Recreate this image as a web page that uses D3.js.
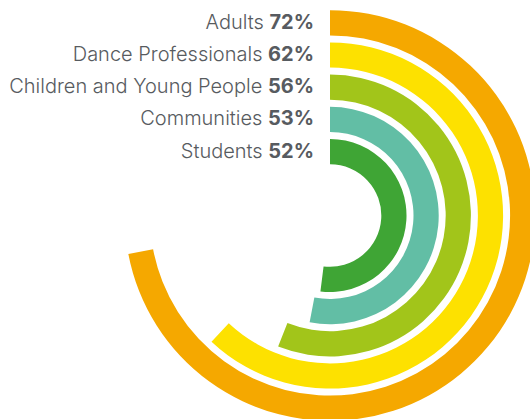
<!DOCTYPE html>
<html>
<head>
<meta charset="utf-8">
<script src="https://cdn.jsdelivr.net/npm/d3@7"></script>
<style>
  body { margin: 0; background: #fff; }
  svg { display: block; }
</style>
</head>
<body>
<div id="chart"></div>
<script>
// data, outer ring first
const categories = ["Adults", "Dance Professionals", "Children and Young People", "Communities", "Students"];
const values = [72, 62, 56, 53, 52];
const colors = ["#f5a800", "#fde100", "#a2c51a", "#62bea5", "#3fa535"];

const width = 530, height = 419;
const cx = 330, cy = 215.5;

const svg = d3.select("#chart")
  .append("svg")
  .attr("width", width)
  .attr("height", height);

const g = svg.append("g")
  .attr("transform", "translate(" + cx + "," + cy + ")");

// ring bands from the inside out
const band = d3.scaleBand()
  .domain(categories.slice().reverse())
  .range([51.3, 205.3])
  .paddingInner(0.217)
  .paddingOuter(0);

const angle = d3.scaleLinear()
  .domain([0, 100])
  .range([0, 2 * Math.PI]);

const arc = d3.arc()
  .innerRadius(d => band(d.cat))
  .outerRadius(d => band(d.cat) + band.bandwidth())
  .startAngle(0)
  .endAngle(d => angle(d.val));

const rows = categories.map((c, i) => ({ cat: c, val: values[i], color: colors[i] }));

g.selectAll("path")
  .data(rows)
  .enter()
  .append("path")
  .attr("d", arc)
  .attr("fill", d => d.color);

// labels, right aligned, centred on each ring
const labels = g.selectAll("text")
  .data(rows)
  .enter()
  .append("text")
  .attr("x", -16)
  .attr("y", d => -(band(d.cat) + band.bandwidth() / 2))
  .attr("dy", "0.3em")
  .attr("text-anchor", "end")
  .style("font-family", "Inter, sans-serif")
  .style("font-size", "20px")
  .style("fill", "#575b60");

labels.append("tspan")
  .style("font-weight", 300)
  .text(d => d.cat + " ");

labels.append("tspan")
  .style("font-weight", 700)
  .text(d => d.val + "%");
</script>
</body>
</html>
